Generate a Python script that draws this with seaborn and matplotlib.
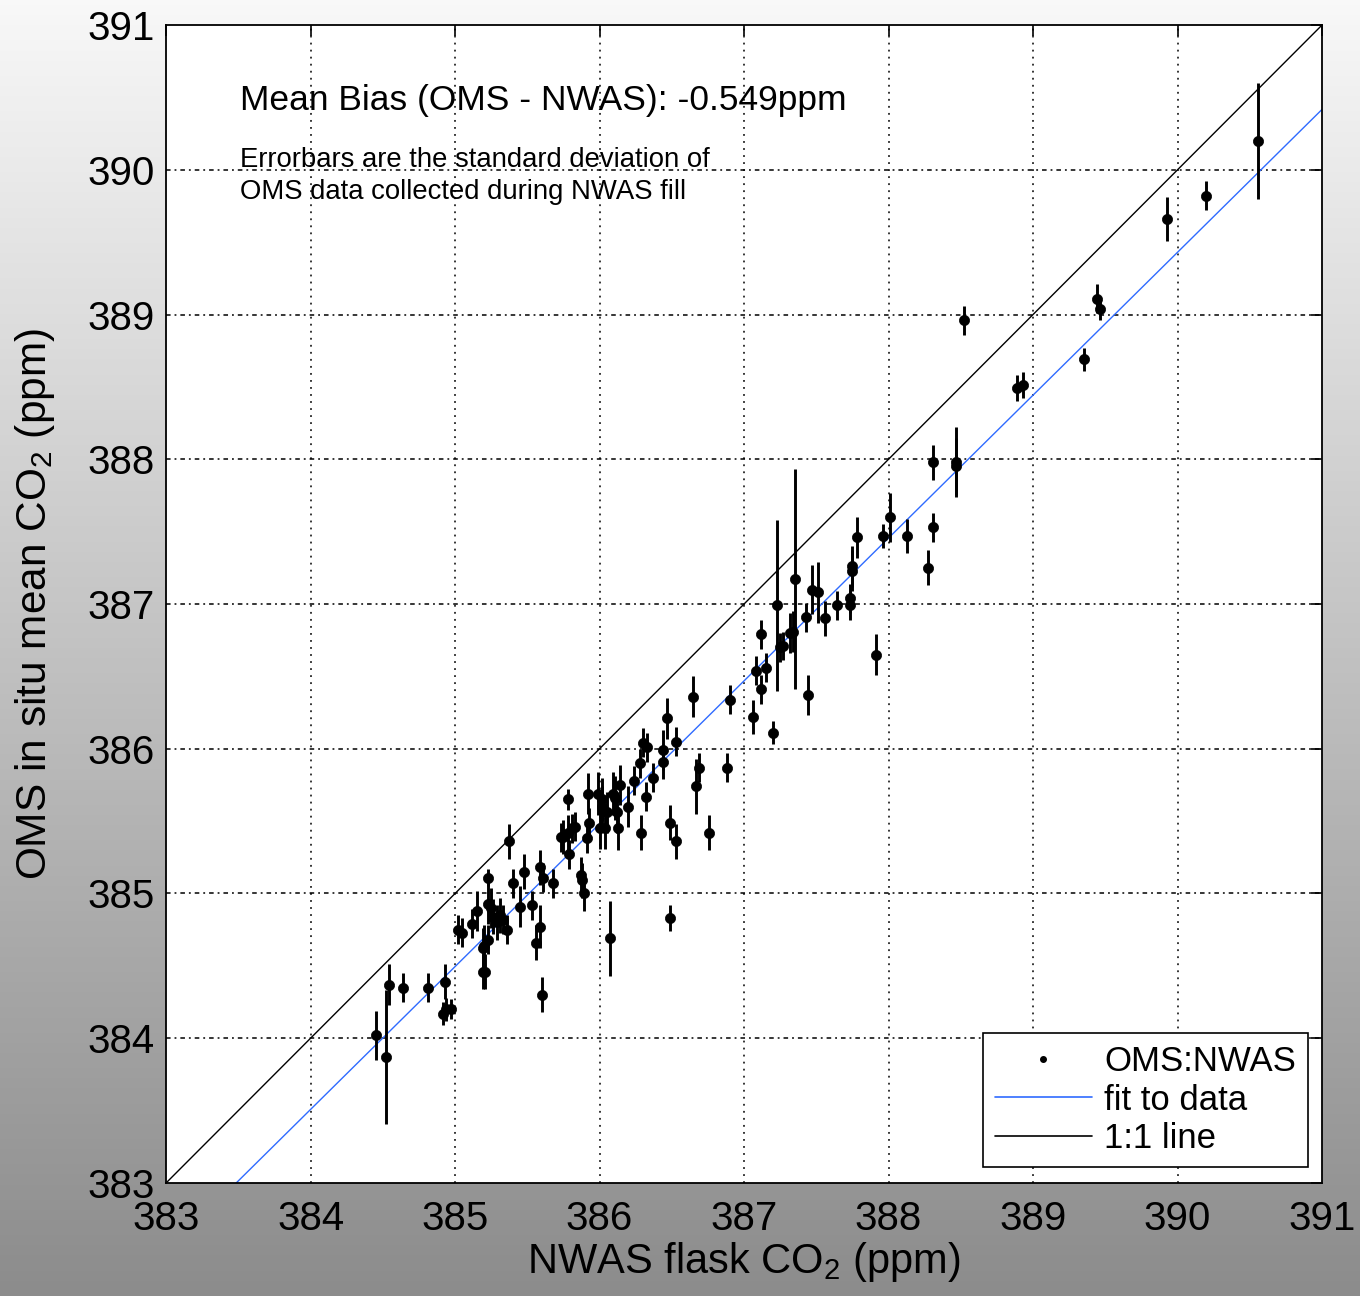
import numpy as np
import pandas as pd
import matplotlib
matplotlib.use("Agg")
import matplotlib.pyplot as plt
import seaborn as sns
from matplotlib.lines import Line2D

# ---- data ----
nwas_flask = [384.45, 384.52, 384.54, 384.64, 384.81, 384.93, 384.92, 384.94, 384.97, 385.02,
              385.05, 385.12, 385.15, 385.19, 385.20, 385.19, 385.21, 385.23, 385.23, 385.25,
              385.26, 385.29, 385.31, 385.33, 385.36, 385.23, 385.37, 385.40, 385.45, 385.48,
              385.53, 385.56, 385.59, 385.60, 385.59, 385.61, 385.68, 385.73, 385.75, 385.78,
              385.81, 385.83, 385.78, 385.79, 385.87, 385.88, 385.89, 385.91, 385.93, 385.92,
              385.99, 386.02, 386.02, 386.05, 386.00, 386.04, 386.09, 386.11, 386.12, 386.13,
              386.14, 386.20, 386.07, 386.24, 386.28, 386.30, 386.33, 386.29, 386.32, 386.37,
              386.44, 386.44, 386.47, 386.49, 386.53, 386.53, 386.49, 386.65, 386.67, 386.69,
              386.76, 386.88, 386.90, 387.06, 387.20, 387.08, 387.12, 387.15, 387.12, 387.23,
              387.25, 387.27, 387.32, 387.34, 387.35, 387.44, 387.43, 387.47, 387.51, 387.56,
              387.64, 387.73, 387.73, 387.75, 387.75, 387.78, 387.91, 387.96, 388.01, 388.13,
              388.27, 388.31, 388.31, 388.47, 388.47, 388.52, 388.89, 388.93, 389.35, 389.44,
              389.46, 389.93, 390.20, 390.56]
oms_mean = [384.02, 383.87, 384.37, 384.35, 384.35, 384.39, 384.17, 384.20, 384.20, 384.75,
            384.73, 384.79, 384.88, 384.62, 384.64, 384.46, 384.46, 385.11, 384.93, 384.90,
            384.84, 384.80, 384.85, 384.82, 384.75, 384.68, 385.36, 385.07, 384.91, 385.15,
            384.92, 384.66, 384.77, 384.30, 385.18, 385.11, 385.07, 385.39, 385.39, 385.42,
            385.45, 385.46, 385.65, 385.27, 385.13, 385.09, 385.00, 385.38, 385.49, 385.69,
            385.69, 385.65, 385.60, 385.56, 385.45, 385.45, 385.69, 385.66, 385.56, 385.45,
            385.75, 385.60, 384.69, 385.78, 385.90, 386.04, 386.01, 385.42, 385.67, 385.80,
            385.99, 385.91, 386.21, 385.49, 385.36, 386.05, 384.83, 386.36, 385.74, 385.87,
            385.42, 385.87, 386.34, 386.22, 386.11, 386.54, 386.41, 386.56, 386.79, 386.99,
            386.70, 386.71, 386.80, 386.81, 387.17, 386.37, 386.91, 387.10, 387.08, 386.90,
            386.99, 386.99, 387.04, 387.23, 387.26, 387.46, 386.65, 387.47, 387.60, 387.47,
            387.25, 387.53, 387.98, 387.98, 387.95, 388.96, 388.49, 388.51, 388.69, 389.11,
            389.04, 389.66, 389.82, 390.20]
oms_std = [0.17, 0.46, 0.14, 0.10, 0.10, 0.12, 0.08, 0.08, 0.07, 0.10,
           0.10, 0.10, 0.14, 0.14, 0.14, 0.12, 0.12, 0.06, 0.14, 0.14,
           0.12, 0.12, 0.12, 0.10, 0.10, 0.10, 0.12, 0.10, 0.14, 0.12,
           0.10, 0.12, 0.15, 0.12, 0.12, 0.10, 0.10, 0.10, 0.12, 0.12,
           0.10, 0.10, 0.07, 0.10, 0.12, 0.12, 0.12, 0.10, 0.10, 0.14,
           0.15, 0.15, 0.14, 0.14, 0.14, 0.14, 0.15, 0.15, 0.14, 0.15,
           0.14, 0.14, 0.26, 0.10, 0.10, 0.10, 0.10, 0.12, 0.10, 0.10,
           0.14, 0.12, 0.14, 0.12, 0.12, 0.10, 0.09, 0.14, 0.19, 0.10,
           0.12, 0.10, 0.10, 0.12, 0.08, 0.10, 0.10, 0.10, 0.10, 0.59,
           0.10, 0.10, 0.14, 0.14, 0.76, 0.14, 0.10, 0.17, 0.21, 0.12,
           0.10, 0.10, 0.10, 0.14, 0.14, 0.14, 0.14, 0.08, 0.17, 0.12,
           0.12, 0.10, 0.12, 0.24, 0.20, 0.10, 0.09, 0.09, 0.08, 0.10,
           0.08, 0.15, 0.10, 0.40]
fit_slope = 0.987
fit_intercept = 4.50
axis_range = [383, 391]
tick_values = [383, 384, 385, 386, 387, 388, 389, 390, 391]
mean_bias_text = "Mean Bias (OMS - NWAS): -0.549ppm"
note_text = "Errorbars are the standard deviation of\nOMS data collected during NWAS fill"

df = pd.DataFrame({"nwas": nwas_flask, "oms": oms_mean, "std": oms_std})
line_x = np.array(axis_range, dtype=float)
lines_df = pd.DataFrame({
    "x": np.concatenate([line_x, line_x]),
    "y": np.concatenate([fit_slope * line_x + fit_intercept, line_x]),
    "kind": ["fit to data"] * 2 + ["1:1 line"] * 2,
})

sns.set_theme(style="white")
plt.rcParams["font.family"] = ["Liberation Sans", "DejaVu Sans"]
plt.rcParams["mathtext.fontset"] = "custom"
plt.rcParams["mathtext.rm"] = "Liberation Sans"
plt.rcParams["mathtext.it"] = "Liberation Sans"
plt.rcParams["text.color"] = "black"
plt.rcParams["axes.labelcolor"] = "black"
plt.rcParams["xtick.color"] = "black"
plt.rcParams["ytick.color"] = "black"

fig = plt.figure(figsize=(13.6, 12.96), dpi=100)

# gradient background
bg = fig.add_axes([0, 0, 1, 1], zorder=-10)
grad = np.linspace(0, 1, 256).reshape(-1, 1)
cmap = matplotlib.colors.LinearSegmentedColormap.from_list("bg", ["#f8f8f8", "#8c8c8c"])
bg.imshow(grad, aspect="auto", cmap=cmap, extent=[0, 1, 0, 1], origin="upper")
bg.set_axis_off()

ax = fig.add_axes([0.1221, 0.0872, 0.8500, 0.8935])
ax.set_facecolor("white")

# error bars
ax.errorbar(df["nwas"], df["oms"], yerr=df["std"], fmt="none", ecolor="black",
            elinewidth=2.1, capsize=0, zorder=3)
sns.scatterplot(data=df, x="nwas", y="oms", ax=ax, color="black", s=54, marker="o",
                edgecolor="black", linewidth=0.5, zorder=4, legend=False)
sns.lineplot(data=lines_df, x="x", y="y", hue="kind",
             palette={"fit to data": "#2f6bff", "1:1 line": "black"},
             ax=ax, linewidth=1.0, legend=False, zorder=2)

ax.set_xlim(axis_range)
ax.set_ylim(axis_range)
ax.set_xticks(tick_values)
ax.set_yticks(tick_values)
ax.tick_params(axis="both", which="both", direction="in", length=8, width=1.2,
               top=True, right=True, labelsize=29, colors="black")
ax.tick_params(axis="x", pad=12)
ax.tick_params(axis="y", pad=8)
for sp in ax.spines.values():
    sp.set_color("black")
    sp.set_linewidth(1.3)

# gridlines (dotted, MATLAB-like)
for v in tick_values[1:-1]:
    ax.axvline(v, color="black", linewidth=1.1, linestyle=(0, (1.2, 3.4)), zorder=1)
    ax.axhline(v, color="black", linewidth=1.1, linestyle=(0, (3.0, 2.6, 1.2, 2.6)), zorder=1)

ax.set_xlabel("NWAS flask CO$_2$ (ppm)", fontsize=30, labelpad=2, color="black")
ax.set_ylabel("OMS in situ mean CO$_2$ (ppm)", fontsize=30.5, labelpad=22, color="black")

ax.text(0.064, 0.935, mean_bias_text, transform=ax.transAxes, fontsize=25.5,
        ha="left", va="center", color="black")
ax.text(0.064, 0.870, note_text, transform=ax.transAxes, fontsize=19.8,
        ha="left", va="center", color="black", linespacing=1.3)

handles = [
    Line2D([], [], color="black", marker="o", markersize=4, linestyle="none"),
    Line2D([], [], color="#2f6bff", linewidth=1.2),
    Line2D([], [], color="black", linewidth=1.2),
]
leg = ax.legend(handles, ["OMS:NWAS", "fit to data", "1:1 line"], loc="lower right",
                bbox_to_anchor=(0.988, 0.0138), fontsize=25, frameon=True, fancybox=False,
                edgecolor="black", framealpha=1, handlelength=2.8, handletextpad=0.35,
                labelspacing=0.15, borderpad=0.35, borderaxespad=0)
leg.get_frame().set_linewidth(1.2)
for t in leg.get_texts():
    t.set_color("black")

fig.savefig("out.png", dpi=100)
